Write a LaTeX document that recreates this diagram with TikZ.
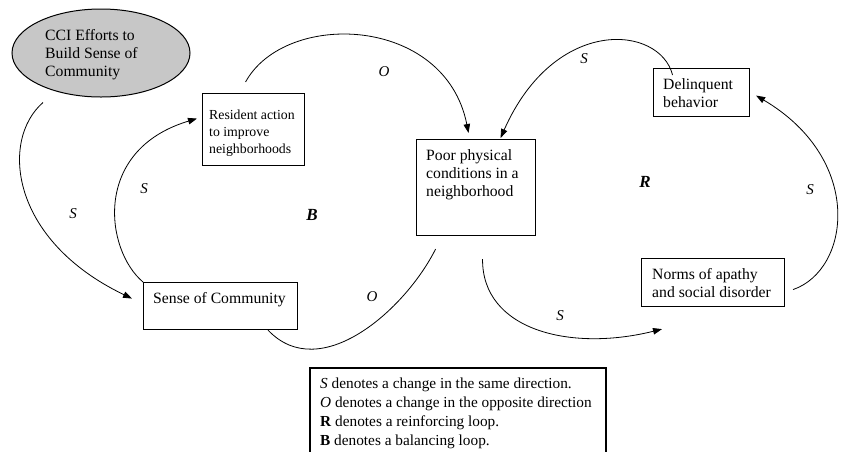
\documentclass[tikz,border=0pt]{standalone}
\usepackage{fontspec}
\setmainfont{Liberation Serif}
\usetikzlibrary{arrows.meta,calc,shapes.geometric}
\begin{document}
\begin{tikzpicture}[x=1pt,y=-1pt,
  box/.style={draw, line width=1.1pt, fill=white, inner sep=0pt, anchor=north west},
  txt/.style={inner sep=0pt, anchor=north west, align=left, font=\fontsize{15.7}{18.3}\selectfont},
  conn/.style={line width=0.8pt, -{Triangle[length=9pt,width=6.5pt]}},
  plain/.style={line width=0.8pt},
  lbl/.style={inner sep=0pt, font=\fontsize{15}{18}\selectfont\itshape},
  looplbl/.style={inner sep=0pt, font=\fontsize{17}{20}\selectfont\bfseries\itshape}]
\useasboundingbox (0,0) rectangle (843,451);

% nodes
\node[ellipse, draw, line width=1pt, fill=black!22, minimum width=178pt, minimum height=88pt, inner sep=0pt] (cci) at (101,53) {};
\node[txt, text=black] (cciT) at (45,29) {CCI Efforts to\\Build Sense of\\Community};

\node[box, minimum width=102pt, minimum height=72pt] (res) at (202,93) {};
\node[txt, font=\fontsize{13.8}{17}\selectfont] (resT) at (209,109.5) {Resident action\\to improve\\neighborhoods};

\node[box, minimum width=119pt, minimum height=96pt] (poor) at (416,139) {};
\node[txt] (poorT) at (426,149) {Poor physical\\conditions in a\\neighborhood};

\node[box, minimum width=96pt, minimum height=48pt] (del) at (653,68) {};
\node[txt] (delT) at (663,78) {Delinquent\\behavior};

\node[box, minimum width=143pt, minimum height=48pt] (norms) at (641,258) {};
\node[txt] (normsT) at (652,268) {Norms of apathy\\and social disorder};

\node[box, minimum width=154pt, minimum height=47pt] (sense) at (143,282) {};
\node[txt] (senseT) at (153,292) {Sense of Community};

% connectors
\draw[conn] ($(cci.south)+(-58,5)$) .. controls (0,140) and (10,240) .. ($(sense.west)+(-11,-7.5)$);
\draw[conn] (sense.north west) .. controls (105,250) and (92,150) .. ($(res.west)+(-5,-11)$);
\draw[conn] ($(res.north)+(-8,-11)$) .. controls (285,10) and (445,15) .. ($(poor.north)+(-7.5,-6)$);
\draw[conn] ($(del.north)+(-29,7)$) .. controls (660,25) and (555,15) .. ($(poor.north)+(24.5,-1)$);
\draw[conn] ($(norms.east)+(8,7)$) .. controls (850,270) and (865,160) .. ($(del.east)+(6,3)$);
\draw[conn] ($(poor.south)+(6.5,23)$) .. controls (482,330) and (570,352) .. ($(norms.south west)+(21,22)$);
\draw[plain] ($(poor.south)+(-40.5,13)$) .. controls (405,310) and (320,385) .. (sense.south -| 268,0);

% labels
\node[lbl] (lS1) at (73,214) {S};
\node[lbl] (lS2) at (144,189) {S};
\node[lbl] (lO1) at (384,72) {O};
\node[lbl] (lS3) at (584,59) {S};
\node[lbl] (lS4) at (810,190) {S};
\node[lbl] (lO2) at (372,297) {O};
\node[lbl] (lS5) at (560,316) {S};
\node[looplbl] (lB) at (312,215) {B};
\node[looplbl] (lR) at (645,182) {R};

% legend
\draw[line width=1.1pt] (310,452) |- (606,368) -- (606,452);
\node[txt, font=\fontsize{15.3}{19}\selectfont] (legend) at (320,378)
  {\textit{S} denotes a change in the same direction.\\
   \textit{O} denotes a change in the opposite direction\\
   \textbf{R} denotes a reinforcing loop.\\
   \textbf{B} denotes a balancing loop.};
\end{tikzpicture}
\end{document}
